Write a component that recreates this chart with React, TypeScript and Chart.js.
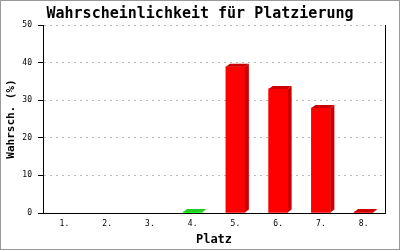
import React, { useEffect, useRef } from "react";
import { Chart, registerables } from "chart.js";

Chart.register(...registerables);

const categories = ["1.", "2.", "3.", "4.", "5.", "6.", "7.", "8."];
const values = [0, 0, 0, 0.25, 38.9, 33.0, 27.9, 0.25];
const frontColors = ["#ff0000", "#ff0000", "#ff0000", "#00ff00", "#ff0000", "#ff0000", "#ff0000", "#ff0000"];
const darkColors = ["#cc0000", "#cc0000", "#cc0000", "#22cc22", "#cc0000", "#cc0000", "#cc0000", "#cc0000"];
const yTicks = [0, 10, 20, 30, 40, 50];

const MONO = "'DejaVu Sans Mono', monospace";

const bar3d = {
  id: "bar3d",
  afterDatasetsDraw(chart: any) {
    const ctx = chart.ctx;
    const meta = chart.getDatasetMeta(0);
    const dx = 4;
    const dy = 3;
    meta.data.forEach((el: any, i: number) => {
      if (values[i] <= 0) return;
      const { x, y, base, width } = el.getProps(["x", "y", "base", "width"], true);
      const l = x - width / 2;
      const r = x + width / 2;
      ctx.save();
      ctx.fillStyle = darkColors[i];
      ctx.beginPath();
      ctx.moveTo(l, y);
      ctx.lineTo(l + dx, y - dy);
      ctx.lineTo(r + dx, y - dy);
      ctx.lineTo(r, y);
      ctx.closePath();
      ctx.fill();
      ctx.beginPath();
      ctx.moveTo(r, y);
      ctx.lineTo(r + dx, y - dy);
      ctx.lineTo(r + dx, base - dy);
      ctx.lineTo(r, base);
      ctx.closePath();
      ctx.fill();
      ctx.restore();
    });
  },
};

const frame = {
  id: "frame",
  beforeDraw(chart: any) {
    const ctx = chart.ctx;
    ctx.save();
    ctx.fillStyle = "#ffffff";
    ctx.fillRect(0, 0, chart.width, chart.height);
    ctx.restore();
  },
  afterDraw(chart: any) {
    const ctx = chart.ctx;
    const a = chart.chartArea;
    ctx.save();
    ctx.strokeStyle = "#000000";
    ctx.lineWidth = 1;
    ctx.beginPath();
    ctx.moveTo(Math.round(a.right) + 0.5, a.top);
    ctx.lineTo(Math.round(a.right) + 0.5, a.bottom);
    ctx.stroke();
    ctx.strokeStyle = "#999999";
    ctx.strokeRect(0.5, 0.5, chart.width - 1, chart.height - 1);
    ctx.restore();
  },
};

export default function App() {
  const ref = useRef<HTMLCanvasElement>(null);
  useEffect(() => {
    document.body.style.margin = "0";
    if (!ref.current) return;
    const chart = new Chart(ref.current, {
      type: "bar",
      data: {
        labels: categories,
        datasets: [
          {
            data: values,
            backgroundColor: (c: any) => (values[c.dataIndex] > 0 ? frontColors[c.dataIndex] : "rgba(0,0,0,0)"),
            borderWidth: 0,
            barThickness: 19,
          },
        ],
      },
      options: {
        responsive: false,
        animation: false,
        layout: { padding: 0 },
        plugins: {
          legend: { display: false },
          tooltip: { enabled: false },
          title: {
            display: true,
            text: "Wahrscheinlichkeit für Platzierung",
            color: "#000000",
            font: { family: MONO, size: 15, weight: "bold", lineHeight: 1.2 },
            padding: { top: 5, bottom: 2 },
          },
        },
        scales: {
          x: {
            grid: { display: false, drawTicks: false },
            border: { display: true, color: "#000000", width: 1 },
            ticks: { color: "#000000", font: { family: MONO, size: 8 }, padding: 6 },
            title: {
              display: true,
              text: "Platz",
              color: "#000000",
              font: { family: MONO, size: 12, weight: "bold", lineHeight: 1.2 },
              padding: { top: 0, bottom: 3 },
            },
            afterFit(scale: any) {
              scale.height = 37;
            },
          },
          y: {
            min: 0,
            max: 50,
            afterBuildTicks(scale: any) {
              scale.ticks = yTicks.map((v) => ({ value: v }));
            },
            grid: {
              color: "#bbbbbb",
              tickColor: "#000000",
              tickLength: 5,
              tickBorderDash: [],
            },
            border: { display: true, color: "#000000", width: 1, dash: [2, 4] },
            ticks: { color: "#000000", font: { family: MONO, size: 8 }, padding: 6 },
            title: {
              display: true,
              text: "Wahrsch. (%)",
              color: "#000000",
              font: { family: MONO, size: 11, weight: "bold", lineHeight: 1.2 },
              padding: { top: 5, bottom: 0 },
            },
            afterFit(scale: any) {
              scale.width = 43;
            },
          },
          yRight: {
            position: "right",
            min: 0,
            max: 50,
            grid: { display: false, drawTicks: false },
            border: { display: false },
            ticks: { display: false },
            afterFit(scale: any) {
              scale.width = 15;
            },
          },
        },
      },
      plugins: [frame, bar3d],
    });
    return () => chart.destroy();
  }, []);
  return <canvas ref={ref} width={400} height={250} />;
}
